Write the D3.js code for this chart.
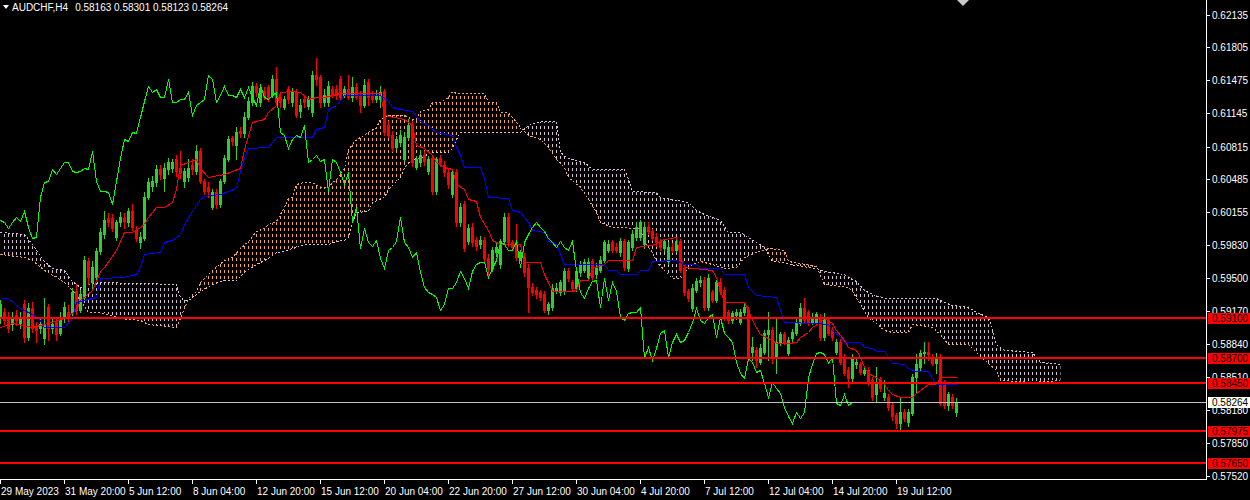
<!DOCTYPE html>
<html>
<head>
<meta charset="utf-8">
<script src="https://cdn.jsdelivr.net/npm/d3@7"></script>
<style>
  body { margin: 0; background: #000; }
  svg { display: block; }
  text { font-family: "Liberation Sans", Arial, sans-serif; font-size: 10px; }
</style>
</head>
<body>
<svg id="chart"></svg>
<script>
// AUDCHF H4, one value per bar (bar 0 = 29 May 2023)
const opens = [0.59105,0.59165,0.59115,0.59035,0.59125,0.59055,0.59235,0.58915,0.59205,0.59015,
0.59005,0.58905,0.59215,0.59005,0.59065,0.58955,0.59105,0.59155,0.59155,0.59365,
0.59185,0.59315,0.59665,0.59455,0.59515,0.59765,0.59935,0.60105,0.60105,0.59915,
0.60055,0.60105,0.60055,0.60165,0.59985,0.59855,0.59905,0.60315,0.60425,0.60455,
0.60585,0.60505,0.60585,0.60605,0.60685,0.60605,0.60465,0.60515,0.60635,0.60565,
0.60765,0.60465,0.60415,0.60215,0.60355,0.60235,0.60465,0.60685,0.60895,0.60835,
0.60965,0.60945,0.61105,0.61255,0.61415,0.61255,0.61365,0.61405,0.61335,0.61485,
0.61315,0.61215,0.61385,0.61255,0.61355,0.61165,0.61285,0.61225,0.61155,0.61535,
0.61505,0.61255,0.61255,0.61385,0.61385,0.61485,0.61335,0.61385,0.61315,0.61405,
0.61335,0.61235,0.61455,0.61335,0.61285,0.61285,0.61365,0.61035,0.60935,0.60815,
0.60855,0.60685,0.60915,0.61035,0.60615,0.60655,0.60735,0.60565,0.60705,0.60365,
0.60705,0.60635,0.60555,0.60335,0.60555,0.60055,0.60235,0.59865,0.60015,0.59885,
0.59835,0.59885,0.59705,0.59605,0.59755,0.59635,0.59865,0.60115,0.59855,0.59855,
0.59715,0.59715,0.59605,0.59415,0.59385,0.59355,0.59335,0.59185,0.59215,0.59375,
0.59355,0.59365,0.59565,0.59455,0.59405,0.59555,0.59585,0.59515,0.59665,0.59535,
0.59585,0.59685,0.59785,0.59855,0.59815,0.59755,0.59865,0.59605,0.59815,0.59915,
0.59915,0.59835,0.60015,0.59965,0.59915,0.59865,0.59805,0.59665,0.59815,0.59785,
0.59865,0.59605,0.59365,0.59205,0.59385,0.59455,0.59485,0.59215,0.59355,0.59285,
0.59455,0.59385,0.59155,0.59085,0.59125,0.59065,0.59155,0.59185,0.58765,0.58785,
0.58665,0.58765,0.58935,0.58985,0.58705,0.58855,0.58935,0.58755,0.58905,0.58955,
0.59055,0.59205,0.59155,0.59065,0.59055,0.59105,0.58915,0.59085,0.58985,0.58765,
0.58865,0.58715,0.58585,0.58505,0.58635,0.58635,0.58555,0.58585,0.58485,0.58335,
0.58485,0.58315,0.58315,0.58225,0.58125,0.58055,0.58165,0.58065,0.58155,0.58515,
0.58615,0.58755,0.58765,0.58715,0.58655,0.58705,0.58455,0.58235,0.58315,0.58163];

const highs = [0.59285,0.59205,0.59165,0.59155,0.59185,0.59165,0.59285,0.59245,0.59265,0.59065,
0.59105,0.59305,0.59235,0.59105,0.59105,0.59165,0.59265,0.59225,0.59405,0.59435,
0.59385,0.59725,0.59705,0.59665,0.59805,0.60005,0.60165,0.60145,0.60135,0.60085,
0.60155,0.60145,0.60205,0.60235,0.60025,0.59955,0.60355,0.60505,0.60525,0.60635,
0.60635,0.60645,0.60705,0.60685,0.60735,0.60765,0.60605,0.60685,0.60685,0.60835,
0.60795,0.60485,0.60455,0.60385,0.60385,0.60485,0.60735,0.60925,0.60925,0.61005,
0.61005,0.61155,0.61305,0.61455,0.61445,0.61425,0.61405,0.61435,0.61535,0.61605,
0.61345,0.61325,0.61425,0.61395,0.61385,0.61285,0.61325,0.61325,0.61565,0.61695,
0.61535,0.61385,0.61465,0.61425,0.61435,0.61515,0.61425,0.61535,0.61505,0.61445,
0.61365,0.61485,0.61485,0.61365,0.61375,0.61415,0.61385,0.61065,0.60965,0.60925,
0.60975,0.60955,0.61085,0.61065,0.60725,0.60775,0.60765,0.60725,0.60735,0.60715,
0.60735,0.60665,0.60585,0.60585,0.60585,0.60245,0.60265,0.60035,0.60045,0.59915,
0.59925,0.59915,0.59735,0.59815,0.59845,0.59895,0.60145,0.60145,0.59885,0.60035,
0.59785,0.59745,0.59635,0.59445,0.59415,0.59385,0.59365,0.59265,0.59435,0.59445,
0.59485,0.59605,0.59605,0.59485,0.59605,0.59665,0.59695,0.59705,0.59695,0.59645,
0.59725,0.59885,0.59875,0.59885,0.59845,0.59905,0.59895,0.59885,0.59975,0.60055,
0.60085,0.60055,0.60055,0.59995,0.59945,0.59895,0.59895,0.59855,0.59845,0.59905,
0.59895,0.59635,0.59395,0.59435,0.59505,0.59525,0.59515,0.59535,0.59385,0.59485,
0.59505,0.59415,0.59185,0.59175,0.59195,0.59195,0.59245,0.59215,0.58915,0.58815,
0.58835,0.58985,0.59165,0.59015,0.59115,0.58965,0.58965,0.58915,0.58995,0.59095,
0.59245,0.59305,0.59185,0.59145,0.59165,0.59135,0.59145,0.59115,0.59015,0.58895,
0.58895,0.58745,0.58615,0.58735,0.58705,0.58665,0.58615,0.58615,0.58515,0.58615,
0.58515,0.58485,0.58345,0.58255,0.58155,0.58305,0.58195,0.58195,0.58545,0.58735,
0.58785,0.58865,0.58865,0.58745,0.58755,0.58735,0.58485,0.58365,0.58345,0.58301];

const lows = [0.59055,0.59035,0.58965,0.58985,0.59025,0.59005,0.58865,0.58885,0.58965,0.58865,
0.58955,0.58835,0.58885,0.58955,0.58885,0.58925,0.59065,0.59065,0.59105,0.59135,
0.59155,0.59285,0.59435,0.59405,0.59485,0.59735,0.59905,0.60025,0.59965,0.59885,
0.60025,0.60005,0.60025,0.59985,0.59865,0.59805,0.59885,0.60285,0.60365,0.60425,
0.60485,0.60365,0.60535,0.60555,0.60525,0.60505,0.60415,0.60465,0.60535,0.60535,
0.60445,0.60335,0.60315,0.60195,0.60205,0.60215,0.60445,0.60665,0.60835,0.60685,
0.60905,0.60915,0.61085,0.61235,0.61325,0.61225,0.61285,0.61265,0.61305,0.61235,
0.61215,0.61185,0.61245,0.61225,0.61105,0.61105,0.61205,0.61185,0.61125,0.61435,
0.61205,0.61225,0.61225,0.61305,0.61285,0.61285,0.61305,0.61285,0.61265,0.61285,
0.61155,0.61205,0.61235,0.61255,0.61255,0.61215,0.60935,0.60905,0.60765,0.60785,
0.60825,0.60665,0.60885,0.60625,0.60585,0.60625,0.60635,0.60535,0.60335,0.60335,
0.60625,0.60525,0.60405,0.60315,0.60025,0.60025,0.59765,0.59835,0.59825,0.59785,
0.59805,0.59675,0.59505,0.59575,0.59725,0.59605,0.59835,0.59825,0.59785,0.59685,
0.59685,0.59525,0.59155,0.59325,0.59305,0.59285,0.59155,0.59135,0.59185,0.59345,
0.59325,0.59335,0.59465,0.59375,0.59375,0.59525,0.59555,0.59485,0.59485,0.59505,
0.59555,0.59655,0.59755,0.59755,0.59755,0.59725,0.59585,0.59575,0.59785,0.59885,
0.59885,0.59805,0.59935,0.59875,0.59825,0.59785,0.59775,0.59635,0.59755,0.59755,
0.59555,0.59325,0.59275,0.59175,0.59355,0.59425,0.59185,0.59185,0.59255,0.59255,
0.59335,0.59085,0.59055,0.59055,0.59095,0.59035,0.59125,0.58675,0.58685,0.58615,
0.58635,0.58735,0.58685,0.58655,0.58555,0.58825,0.58835,0.58725,0.58875,0.58925,
0.59025,0.59055,0.59025,0.59035,0.59025,0.58885,0.58885,0.58925,0.58885,0.58735,
0.58635,0.58525,0.58415,0.58475,0.58605,0.58535,0.58525,0.58425,0.58285,0.58265,
0.58375,0.58285,0.58185,0.58085,0.58005,0.57985,0.58075,0.58015,0.58125,0.58365,
0.58585,0.58655,0.58685,0.58625,0.58555,0.58225,0.58205,0.58185,0.58205,0.58123];

const closes = [0.59235,0.59085,0.59005,0.59115,0.59085,0.59115,0.58915,0.59205,0.59005,0.58985,
0.59035,0.59035,0.59005,0.59035,0.58935,0.59115,0.59215,0.59105,0.59355,0.59185,
0.59335,0.59685,0.59515,0.59615,0.59765,0.59955,0.60085,0.60055,0.60005,0.60055,
0.60115,0.60065,0.60165,0.60015,0.59905,0.59915,0.60315,0.60455,0.60465,0.60585,
0.60535,0.60605,0.60655,0.60655,0.60565,0.60555,0.60565,0.60605,0.60585,0.60765,
0.60465,0.60365,0.60365,0.60355,0.60235,0.60465,0.60705,0.60885,0.60865,0.60955,
0.60945,0.61115,0.61265,0.61415,0.61355,0.61385,0.61315,0.61315,0.61485,0.61255,
0.61255,0.61285,0.61285,0.61355,0.61135,0.61235,0.61255,0.61285,0.61535,0.61485,
0.61255,0.61335,0.61415,0.61335,0.61335,0.61315,0.61385,0.61315,0.61405,0.61315,
0.61235,0.61435,0.61315,0.61285,0.61335,0.61355,0.60955,0.60935,0.60805,0.60885,
0.60935,0.60915,0.61035,0.60655,0.60685,0.60735,0.60665,0.60685,0.60365,0.60685,
0.60655,0.60555,0.60435,0.60555,0.60055,0.60215,0.59805,0.60005,0.59855,0.59825,
0.59885,0.59705,0.59605,0.59785,0.59815,0.59865,0.60115,0.59855,0.59815,0.59715,
0.59755,0.59555,0.59415,0.59355,0.59335,0.59315,0.59185,0.59235,0.59405,0.59405,
0.59455,0.59565,0.59505,0.59405,0.59565,0.59635,0.59655,0.59655,0.59515,0.59605,
0.59685,0.59855,0.59835,0.59785,0.59785,0.59865,0.59615,0.59855,0.59935,0.60015,
0.60055,0.60015,0.59965,0.59905,0.59855,0.59815,0.59865,0.59815,0.59785,0.59865,
0.59585,0.59355,0.59305,0.59405,0.59465,0.59485,0.59215,0.59505,0.59285,0.59455,
0.59365,0.59115,0.59085,0.59145,0.59165,0.59165,0.59215,0.58705,0.58815,0.58685,
0.58805,0.58955,0.58985,0.58715,0.58865,0.58935,0.58865,0.58885,0.58965,0.59065,
0.59205,0.59085,0.59055,0.59115,0.59135,0.58915,0.59115,0.58955,0.58915,0.58865,
0.58665,0.58555,0.58505,0.58705,0.58665,0.58565,0.58585,0.58455,0.58315,0.58465,
0.58405,0.58355,0.58215,0.58115,0.58055,0.58165,0.58105,0.58165,0.58515,0.58635,
0.58755,0.58765,0.58735,0.58655,0.58715,0.58255,0.58235,0.58335,0.58235,0.58264];

// Ichimoku lines, read at their turning points (bar index, price)
const tenkanBar = [0,3,8,11,16,19,20,23,25,26,29,31,33,35,36,37,39,41,43,44,45,49,50,52,56,60,61,63,66,67,69,70,73,75,77,79,81,85,95,96,101,103,104,106,108,109,111,113,114,116,117,119,120,122,123,125,130,131,135,136,137,138,143,144,145,147,148,151,152,158,159,164,165,169,170,171,178,179,180,181,186,187,188,189,190,193,194,197,199,200,202,203,205,206,208,209,211,212,214,215,216,217,219,221,222,223,225,228,229,231,232,234,235,239];
const tenkanVal = [0.59015,0.59055,0.59015,0.59035,0.59105,0.59185,0.59285,0.59385,0.59565,0.59615,0.59785,0.59955,0.59955,0.60015,0.60035,0.60115,0.60215,0.60215,0.60255,0.60385,0.60635,0.60685,0.60605,0.60515,0.60535,0.60605,0.60785,0.61055,0.61085,0.61155,0.61235,0.61355,0.61365,0.61355,0.61285,0.61305,0.61315,0.61345,0.61345,0.61135,0.61085,0.61035,0.60835,0.60805,0.60735,0.60655,0.60615,0.60585,0.60435,0.60385,0.60285,0.60265,0.60115,0.59985,0.59885,0.59835,0.59835,0.59655,0.59655,0.59535,0.59455,0.59365,0.59365,0.59385,0.59485,0.59485,0.59605,0.59635,0.59685,0.59685,0.59815,0.59835,0.59885,0.59915,0.59715,0.59615,0.59585,0.59515,0.59385,0.59265,0.59265,0.59185,0.59085,0.59015,0.58935,0.58885,0.58855,0.58855,0.58865,0.58915,0.58965,0.59015,0.59065,0.59105,0.59055,0.58985,0.58885,0.58815,0.58785,0.58715,0.58615,0.58555,0.58515,0.58435,0.58385,0.58335,0.58315,0.58315,0.58355,0.58415,0.58435,0.58435,0.58515,0.58515];

const kijunBar = [0,2,5,8,10,11,16,18,19,21,24,25,31,34,35,36,40,41,43,45,46,48,50,51,55,59,60,61,62,67,69,78,79,81,82,84,86,95,97,98,100,103,105,107,109,113,114,115,116,120,121,122,127,128,130,132,133,136,137,139,140,141,151,152,154,155,159,160,162,163,169,171,174,175,180,181,186,187,189,194,195,196,204,207,208,210,211,215,216,218,219,221,222,223,226,227,229,232,233,234,239];
const kijunVal = [0.59305,0.59305,0.59205,0.59135,0.59085,0.59015,0.59015,0.59105,0.59255,0.59285,0.59315,0.59505,0.59515,0.59535,0.59615,0.59735,0.59755,0.59855,0.59885,0.59935,0.60035,0.60165,0.60285,0.60325,0.60335,0.60405,0.60565,0.60705,0.60805,0.60815,0.60905,0.60905,0.60985,0.61015,0.61185,0.61235,0.61335,0.61335,0.61265,0.61215,0.61185,0.61165,0.61065,0.61035,0.60955,0.60935,0.60815,0.60735,0.60615,0.60615,0.60505,0.60315,0.60305,0.60185,0.60155,0.60055,0.59985,0.59955,0.59865,0.59835,0.59735,0.59635,0.59635,0.59585,0.59585,0.59535,0.59535,0.59585,0.59585,0.59665,0.59685,0.59635,0.59635,0.59605,0.59605,0.59535,0.59535,0.59415,0.59325,0.59315,0.59185,0.59065,0.59055,0.59035,0.58985,0.58915,0.58865,0.58865,0.58815,0.58805,0.58775,0.58775,0.58715,0.58655,0.58645,0.58605,0.58575,0.58575,0.58505,0.58435,0.58435];

const spanABar = [0,6,8,11,14,16,18,20,22,25,30,35,37,44,45,47,49,50,53,56,58,60,62,64,66,67,69,71,72,73,74,76,78,80,82,83,84,86,87,89,90,92,94,95,97,101,103,104,105,107,108,110,112,113,114,121,122,124,125,127,128,130,132,135,137,139,141,142,145,147,149,150,153,160,161,163,164,166,168,170,171,173,175,178,181,184,186,189,191,192,196,197,200,204,206,212,213,215,217,219,221,223,227,228,233,235,237,242,244,247,249,250,258,265];
const spanAVal = [0.59735,0.59715,0.59685,0.59585,0.59515,0.59455,0.59385,0.59285,0.59165,0.59155,0.59105,0.59085,0.59035,0.59015,0.59105,0.59305,0.59365,0.59455,0.59585,0.59685,0.59715,0.59805,0.59865,0.59965,0.60005,0.60035,0.60065,0.60215,0.60305,0.60315,0.60435,0.60455,0.60455,0.60415,0.60415,0.60455,0.60485,0.60605,0.60785,0.60885,0.60915,0.60955,0.61005,0.61085,0.61135,0.61135,0.61085,0.61085,0.61165,0.61185,0.61255,0.61255,0.61315,0.61365,0.61345,0.61345,0.61255,0.61255,0.61155,0.61155,0.61105,0.61005,0.60935,0.60885,0.60815,0.60685,0.60615,0.60515,0.60415,0.60285,0.60155,0.60055,0.60015,0.60005,0.59855,0.59755,0.59665,0.59585,0.59505,0.59505,0.59555,0.59635,0.59665,0.59635,0.59605,0.59615,0.59715,0.59755,0.59785,0.59805,0.59785,0.59665,0.59645,0.59625,0.59435,0.59415,0.59365,0.59235,0.59115,0.59055,0.58985,0.58965,0.58965,0.59035,0.59015,0.58935,0.58835,0.58835,0.58765,0.58655,0.58585,0.58485,0.58465,0.58485];

const spanBBar = [0,6,8,9,11,13,16,18,20,22,25,44,45,46,47,50,53,56,59,61,64,66,67,69,71,73,74,76,82,84,86,87,88,89,92,93,96,97,100,101,103,106,107,112,113,114,115,130,132,135,139,140,142,146,148,156,157,158,164,165,172,174,176,180,182,185,187,189,191,193,196,197,204,206,211,212,214,216,218,221,234,236,238,242,244,247,248,249,251,258,260,265];
const spanBVal = [0.59955,0.59935,0.59835,0.59785,0.59665,0.59605,0.59585,0.59465,0.59415,0.59435,0.59455,0.59435,0.59315,0.59285,0.59285,0.59365,0.59435,0.59485,0.59485,0.59555,0.59635,0.59685,0.59705,0.59755,0.59765,0.59805,0.59815,0.59835,0.59835,0.59865,0.59885,0.59915,0.60055,0.60155,0.60165,0.60255,0.60315,0.60385,0.60515,0.60615,0.60685,0.60715,0.60755,0.60755,0.60805,0.60885,0.60955,0.60955,0.61035,0.61065,0.61065,0.60755,0.60705,0.60655,0.60585,0.60585,0.60485,0.60365,0.60355,0.60315,0.60255,0.60185,0.60135,0.60085,0.59955,0.59955,0.59915,0.59855,0.59815,0.59665,0.59655,0.59635,0.59605,0.59565,0.59535,0.59515,0.59465,0.59385,0.59335,0.59305,0.59305,0.59255,0.59225,0.59215,0.59155,0.59115,0.58985,0.58835,0.58785,0.58765,0.58665,0.58645];

const chikouShift = 26;
const levels = [0.59100, 0.58700, 0.58450, 0.57975, 0.57650];
const lastPrice = 0.58264;
const priceTicks = [0.62135,0.61805,0.61475,0.61145,0.60815,0.60485,0.60155,0.59830,0.59500,0.59170,0.58840,0.58510,0.58180,0.57850,0.57520];
const timeTickBars = [0,16,32,48,64,80,96,112,128,144,160,176,192,208,224];
const timeLabels = ["29 May 2023","31 May 20:00","5 Jun 12:00","8 Jun 04:00","12 Jun 20:00","15 Jun 12:00","20 Jun 04:00","22 Jun 20:00","27 Jun 12:00","30 Jun 04:00","4 Jul 20:00","7 Jul 12:00","12 Jul 04:00","14 Jul 20:00","19 Jul 12:00"];
const symbol = "AUDCHF,H4";

const W = 1250, H = 500, plotRight = 1206, plotBottom = 479;
const bull = "#32cd32", bear = "#ff0000";

const svg = d3.select("#chart").attr("width", W).attr("height", H).style("background", "#000");

const x = d3.scaleLinear().domain([0, 300]).range([0.5, 1200.5]);
const y = d3.scaleLinear().domain([0.57520, 0.62135]).range([476, 14.5]);
const px = i => Math.round(x(i) - 0.5);
const py = v => Math.round(y(v));

const defs = svg.append("defs");
defs.append("clipPath").attr("id", "plot")
  .append("rect").attr("width", plotRight).attr("height", plotBottom);

function hatch(id, color) {
  const p = defs.append("pattern").attr("id", id)
    .attr("patternUnits", "userSpaceOnUse").attr("width", 4).attr("height", 6);
  p.append("rect").attr("x", 0).attr("y", 0).attr("width", 1).attr("height", 3).attr("fill", color);
}
hatch("hatchA", "#f4a460");
hatch("hatchB", "#d8bfd8");

const plot = svg.append("g").attr("clip-path", "url(#plot)").attr("shape-rendering", "crispEdges");

// cloud between span A and span B
const ptsA = spanABar.map((b, k) => [b, spanAVal[k]]);
const ptsB = spanBBar.map((b, k) => [b, spanBVal[k]]);
const pt = d => `${x(d[0])},${y(d[1])}`;
const cloud = "M" + ptsA.map(pt).join("L") + "L" + ptsB.slice().reverse().map(pt).join("L") + "Z";
const below = pts => "M" + pts.map(pt).join("L") +
  `L${x(pts[pts.length - 1][0])},${H}L${x(pts[0][0])},${H}Z`;

defs.append("clipPath").attr("id", "belowA").append("path").attr("d", below(ptsA));
defs.append("clipPath").attr("id", "belowB").append("path").attr("d", below(ptsB));

plot.append("path").attr("d", cloud).attr("fill", "url(#hatchA)").attr("clip-path", "url(#belowA)");
plot.append("path").attr("d", cloud).attr("fill", "url(#hatchB)").attr("clip-path", "url(#belowB)");

const line = d3.line().x(d => x(d[0])).y(d => py(d[1]) + 0.5);

plot.append("path").attr("d", line(ptsA)).attr("fill", "none")
  .attr("stroke", "#f4a460").attr("stroke-dasharray", "2,2");
plot.append("path").attr("d", line(ptsB)).attr("fill", "none")
  .attr("stroke", "#d8bfd8").attr("stroke-dasharray", "2,2");

// candles
const idx = d3.range(closes.length);
const col = i => closes[i] >= opens[i] ? bull : bear;
plot.append("g").selectAll("rect").data(idx).join("rect")
  .attr("x", i => px(i)).attr("width", 1)
  .attr("y", i => py(highs[i]))
  .attr("height", i => py(lows[i]) - py(highs[i]) + 1)
  .attr("fill", col);
plot.append("g").selectAll("rect").data(idx).join("rect")
  .attr("x", i => px(i) - 1).attr("width", 3)
  .attr("y", i => py(Math.max(opens[i], closes[i])))
  .attr("height", i => py(Math.min(opens[i], closes[i])) - py(Math.max(opens[i], closes[i])) + 1)
  .attr("fill", col);

// tenkan, kijun, chikou
plot.append("path").attr("d", line(tenkanBar.map((b, k) => [b, tenkanVal[k]])))
  .attr("fill", "none").attr("stroke", "#ff0000");
plot.append("path").attr("d", line(kijunBar.map((b, k) => [b, kijunVal[k]])))
  .attr("fill", "none").attr("stroke", "#0000ff");
plot.append("path")
  .attr("d", line(d3.range(closes.length - chikouShift).map(i => [i, closes[i + chikouShift]])))
  .attr("fill", "none").attr("stroke", "#00ff00");

// horizontal levels and bid line
plot.append("rect").attr("x", 0).attr("width", plotRight).attr("y", py(lastPrice)).attr("height", 1)
  .attr("fill", "#c0c0c0");
plot.selectAll(".lvl").data(levels).join("rect")
  .attr("x", 0).attr("width", plotRight).attr("y", d => py(d) - 1).attr("height", 2)
  .attr("fill", "#ff0000");

// axes
const axis = svg.append("g").attr("shape-rendering", "crispEdges");
axis.append("rect").attr("x", plotRight).attr("y", 0).attr("width", 1).attr("height", plotBottom + 1).attr("fill", "#fff");
axis.append("rect").attr("x", 0).attr("y", plotBottom).attr("width", plotRight + 1).attr("height", 1).attr("fill", "#fff");

axis.selectAll(".pt").data(priceTicks).join("rect")
  .attr("x", plotRight + 1).attr("width", 3).attr("y", d => py(d)).attr("height", 1).attr("fill", "#fff");
svg.selectAll(".pl").data(priceTicks).join("text")
  .attr("x", 1212).attr("y", d => py(d) + 4).attr("fill", "#fff")
  .text(d => d.toFixed(5));

axis.selectAll(".tt").data(timeTickBars).join("rect")
  .attr("x", d => px(d)).attr("width", 1).attr("y", plotBottom + 1).attr("height", 4).attr("fill", "#fff");
svg.selectAll(".tl").data(timeTickBars).join("text")
  .attr("x", d => px(d) + 1).attr("y", 495).attr("fill", "#fff")
  .text((d, k) => timeLabels[k]);

// price tags of the levels and of the last price
const tags = svg.append("g");
levels.forEach(v => {
  tags.append("rect").attr("x", 1208).attr("y", py(v) - 5).attr("width", 42).attr("height", 11)
    .attr("fill", "#ff0000").attr("shape-rendering", "crispEdges");
  tags.append("text").attr("x", 1212).attr("y", py(v) + 4).attr("fill", "#000").text(v.toFixed(5));
});
tags.append("rect").attr("x", 1208).attr("y", py(lastPrice) - 5).attr("width", 42).attr("height", 11)
  .attr("fill", "#fffff0").attr("shape-rendering", "crispEdges");
tags.append("text").attr("x", 1212).attr("y", py(lastPrice) + 4).attr("fill", "#000").text(lastPrice.toFixed(5));

// title
const last = closes.length - 1;
svg.append("path").attr("d", "M3,5L9,5L6,9Z").attr("fill", "#fff");
const title = svg.append("text").attr("x", 12).attr("y", 11).attr("fill", "#fff");
title.append("tspan").text(symbol);
title.append("tspan").attr("dx", 7)
  .text([opens[last], highs[last], lows[last], closes[last]].map(v => v.toFixed(5)).join(" "));

// chart shift marker
svg.append("path").attr("d", "M957,0L969,0L963,6Z").attr("fill", "#c8c8c8");
</script>
</body>
</html>
